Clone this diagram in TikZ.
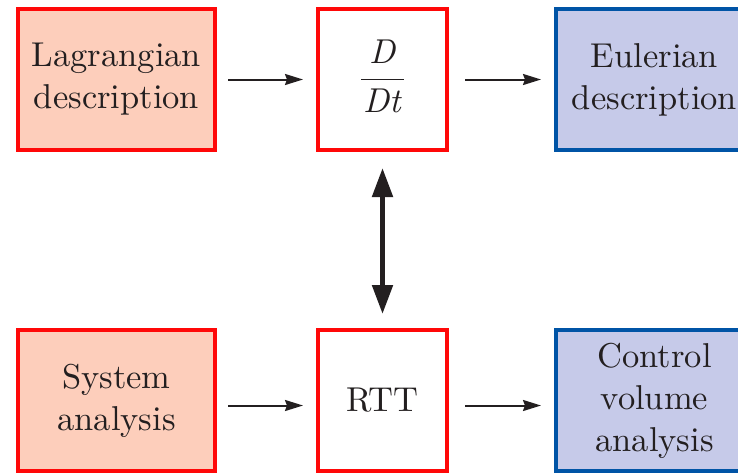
\documentclass[tikz,border=0pt]{standalone}
\usepackage{fontspec}
\setmainfont{lmroman10-regular.otf}[ItalicFont=lmroman10-italic.otf,BoldFont=lmroman10-bold.otf]
\usetikzlibrary{arrows.meta}
\definecolor{salmon}{RGB}{253,206,187}
\definecolor{lav}{RGB}{198,202,233}
\definecolor{bred}{RGB}{255,8,8}
\definecolor{bblue}{RGB}{0,84,166}
\definecolor{ink}{RGB}{35,31,32}
\tikzset{
  box/.style={draw, line width=4pt, outer sep=0pt, inner sep=0pt,
    minimum height=141pt, align=center, text=ink,
    font=\fontsize{34.5}{42}\selectfont},
  wide/.style={box, minimum width=197pt},
  narrow/.style={box, minimum width=129pt},
  redbox/.style={draw=bred, fill=salmon},
  whitebox/.style={draw=bred, fill=white},
  bluebox/.style={draw=bblue, fill=lav},
  harr/.style={draw=ink, line width=2pt, -{Stealth[length=18pt,width=11pt,inset=2pt]}},
  varr/.style={draw=ink, line width=5pt, {Triangle[length=29pt,width=20pt]}-{Triangle[length=29pt,width=20pt]}}
}
\begin{document}
\begin{tikzpicture}[x=1pt,y=-1pt]
\useasboundingbox (0,0) rectangle (738,475);
\clip (0,0) rectangle (738,475);
\fill[white] (0,0) rectangle (738,475);
% top row
\node[wide, redbox] (LD) at (116.5,79.5) {Lagrangian\\description};
\node[narrow, whitebox] (DD) at (382.5,79.5) {\itshape D\\[-25pt]\rule{43pt}{1.6pt}\\[-10pt]\itshape Dt\rule[-7pt]{0pt}{7pt}};
\node[wide, bluebox] (ED) at (654.5,79.5) {Eulerian\\description};
% bottom row
\node[wide, redbox] (SA) at (116.5,400.5) {System\\analysis};
\node[narrow, whitebox] (RTT) at (382.5,400.5) {RTT};
\node[wide, bluebox] (CV) at (654.5,400.5) {Control\\volume\\analysis};
% connectors
\draw[harr, shorten <=13pt, shorten >=15pt] (LD.east) -- (DD.west);
\draw[harr, shorten <=18pt, shorten >=15pt] (DD.east) -- (ED.west);
\draw[harr, shorten <=13pt, shorten >=15pt] ([yshift=-5pt]SA.east) -- ([yshift=-5pt]RTT.west);
\draw[harr, shorten <=18pt, shorten >=15pt] ([yshift=-5pt]RTT.east) -- ([yshift=-5pt]CV.west);
\draw[varr, shorten <=18pt, shorten >=16pt] (DD.south) -- (RTT.north);
\end{tikzpicture}
\end{document}
